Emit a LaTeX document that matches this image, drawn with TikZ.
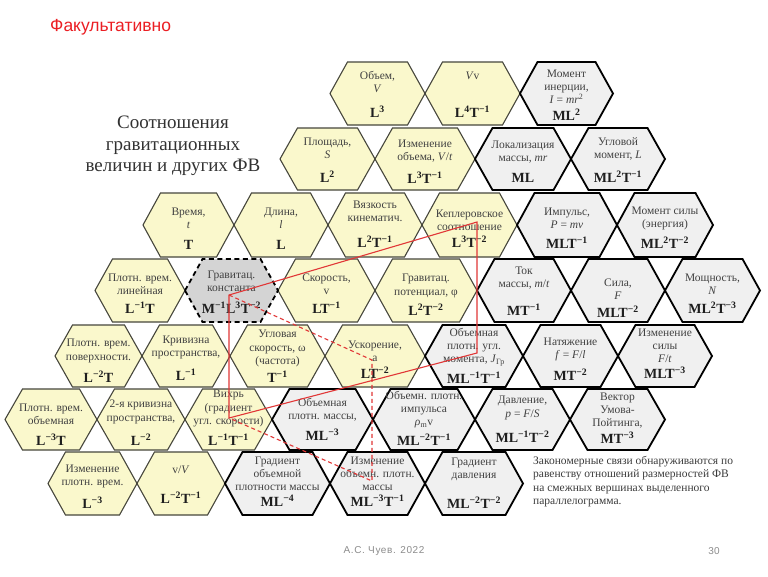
\documentclass[tikz,border=0pt]{standalone}
\usepackage{fontspec}
\setmainfont{Liberation Serif}
\newfontfamily\sansf{Liberation Sans}
\newfontfamily\footf[LetterSpace=6]{Liberation Sans}
\definecolor{hexyellow}{RGB}{250,248,204}
\definecolor{hexyedge}{RGB}{70,70,60}
\definecolor{hexgray}{RGB}{240,240,240}
\definecolor{hexdark}{RGB}{212,212,212}
\definecolor{namecol}{RGB}{65,65,65}
\definecolor{dimcol}{RGB}{30,30,30}
\definecolor{linered}{RGB}{225,55,55}
\definecolor{titlered}{RGB}{235,30,35}
\definecolor{footgray}{RGB}{140,140,140}
\newcommand{\sps}[1]{\textsuperscript{#1}}
\newcommand{\hexcell}[5]{\draw[#5] (#1,{(#3+#4)/2}) -- ({#1+17.5},#3) -- ({#2-17.5},#3) -- (#2,{(#3+#4)/2}) -- ({#2-17.5},#4) -- ({#1+17.5},#4) -- cycle;}
\begin{document}
\begin{tikzpicture}[x=1pt,y=-1pt,
  yhex/.style={fill=hexyellow,draw=hexyedge,line width=1.1pt,line join=miter},
  ghex/.style={fill=hexgray,draw=black,line width=1.8pt,line join=miter},
  khex/.style={fill=hexdark,draw=black,line width=1.8pt,dash pattern=on 5pt off 3.5pt},
  nm/.style={align=center,font=\fontsize{11.5}{13.2}\selectfont,text=namecol,inner sep=0pt},
  dm/.style={font=\fontsize{14}{16}\selectfont\bfseries,text=dimcol,inner sep=0pt},
  redline/.style={draw=linered,line width=1.1pt},
  reddash/.style={draw=linered,line width=1.1pt,dash pattern=on 4pt off 3pt}]
\useasboundingbox (0,0) rectangle (768,576);
\fill[white] (0,0) rectangle (768,576);

% ---------- yellow hexes ----------
\hexcell{330}{425}{62}{125}{yhex}
\hexcell{425}{520}{62}{125}{yhex}
\hexcell{280}{375}{128}{190}{yhex}
\hexcell{375}{475}{128}{190}{yhex}
\hexcell{143}{234}{193}{257}{yhex}
\hexcell{234}{328}{193}{257}{yhex}
\hexcell{328}{422}{193}{257}{yhex}
\hexcell{422}{517}{193}{257}{yhex}
\hexcell{95}{185}{259}{322}{yhex}
\hexcell{278}{375}{259}{322}{yhex}
\hexcell{375}{477}{259}{322}{yhex}
\hexcell{55}{142}{325}{387}{yhex}
\hexcell{142}{230}{325}{387}{yhex}
\hexcell{230}{325}{325}{387}{yhex}
\hexcell{325}{425}{325}{387}{yhex}
\hexcell{5}{97}{389}{450}{yhex}
\hexcell{97}{185}{389}{450}{yhex}
\hexcell{185}{272}{389}{450}{yhex}
\hexcell{48}{137}{452}{515}{yhex}
\hexcell{137}{225}{452}{515}{yhex}
% ---------- gray hexes ----------
\hexcell{520}{613}{62}{125}{ghex}
\hexcell{475}{571}{128}{190}{ghex}
\hexcell{571}{665}{128}{190}{ghex}
\hexcell{517}{617}{193}{257}{ghex}
\hexcell{617}{713}{193}{257}{ghex}
\hexcell{477}{571}{259}{322}{ghex}
\hexcell{571}{665}{259}{322}{ghex}
\hexcell{665}{760}{259}{322}{ghex}
\hexcell{425}{523}{325}{387}{ghex}
\hexcell{523}{618}{325}{387}{ghex}
\hexcell{618}{712}{325}{387}{ghex}
\hexcell{272}{373}{389}{450}{ghex}
\hexcell{373}{475}{389}{450}{ghex}
\hexcell{475}{570}{389}{450}{ghex}
\hexcell{570}{665}{389}{450}{ghex}
\hexcell{225}{330}{452}{515}{ghex}
\hexcell{330}{425}{452}{515}{ghex}
\hexcell{425}{523}{452}{515}{ghex}
% ---------- gravitational constant ----------
\hexcell{185}{278}{259}{322}{khex}

% ---------- texts: row 1 ----------
\node[nm] (n11) at (377.5,82) {Объем,\\\textit{V}};
\node[dm] (d11) at (377.5,112) {L\sps{3}};
\node[nm] (n12) at (472.5,76) {\textit{V}v};
\node[dm] (d12) at (472.5,112) {L\sps{4}T\sps{−1}};
\node[nm] (n13) at (566.5,86.5) {Момент\\инерции,\\\textit{I} = \textit{mr}\sps{2}};
\node[dm] (d13) at (566.5,115) {ML\sps{2}};
% row 2
\node[nm] (n21) at (327.5,148) {Площадь,\\\textit{S}};
\node[dm] (d21) at (327.5,177) {L\sps{2}};
\node[nm] (n22) at (425,151) {Изменение\\объема, \textit{V}/\textit{t}};
\node[dm] (d22) at (425,178) {L\sps{3}T\sps{−1}};
\node[nm] (n23) at (523,152) {Локализация\\массы, \textit{mr}};
\node[dm] (d23) at (523,178) {ML};
\node[nm] (n24) at (618,149) {Угловой\\момент, \textit{L}};
\node[dm] (d24) at (618,177) {ML\sps{2}T\sps{−1}};
% row 3
\node[nm] (n31) at (188.5,218.5) {Время,\\\textit{t}};
\node[dm] (d31) at (188.5,245) {T};
\node[nm] (n32) at (281,218.5) {Длина,\\\textit{l}};
\node[dm] (d32) at (281,245) {L};
\node[nm] (n33) at (375,211) {Вязкость\\кинематич.};
\node[dm] (d33) at (375,242) {L\sps{2}T\sps{−1}};
\node[nm] (n34) at (469.5,220) {Кеплеровское\\соотношение};
\node[dm] (d34) at (469.5,242) {L\sps{3}T\sps{−2}};
\node[nm] (n35) at (567,218.5) {Импульс,\\\textit{P} = \textit{mv}};
\node[dm] (d35) at (567,243) {MLT\sps{−1}};
\node[nm] (n36) at (665,218.5) {Момент силы\\(энергия)};
\node[dm] (d36) at (665,243) {ML\sps{2}T\sps{−2}};
% row 4
\node[nm] (n41) at (140,284.5) {Плотн. врем.\\линейная};
\node[dm] (d41) at (140,308) {L\sps{−1}T};
\node[nm] (n42) at (231.5,281.5) {Гравитац.\\константа};
\node[dm] (d42) at (231.5,308) {M\sps{−1}L\sps{3}T\sps{−2}};
\node[nm] (n43) at (326.5,284.5) {Скорость,\\v};
\node[dm] (d43) at (326.5,308) {LT\sps{−1}};
\node[nm] (n44) at (426,286) {Гравитац.\\потенциал, φ};
\node[dm] (d44) at (426,310) {L\sps{2}T\sps{−2}};
\node[nm] (n45) at (524,278.5) {Ток\\массы, \textit{m}/\textit{t}};
\node[dm] (d45) at (524,310) {MT\sps{−1}};
\node[nm] (n46) at (618,289.5) {Сила,\\\textit{F}};
\node[dm] (d46) at (618,312) {MLT\sps{−2}};
\node[nm] (n47) at (712.5,284.5) {Мощность,\\\textit{N}};
\node[dm] (d47) at (712.5,308) {ML\sps{2}T\sps{−3}};
% row 5
\node[nm] (n51) at (98.5,351) {Плотн. врем.\\поверхности.};
\node[dm] (d51) at (98.5,377) {L\sps{−2}T};
\node[nm] (n52) at (186,347.5) {Кривизна\\пространства,};
\node[dm] (d52) at (186,375) {L\sps{−1}};
\node[nm] (n53) at (277.5,348.5) {Угловая\\скорость, ω\\(частота)};
\node[dm] (d53) at (277.5,377) {T\sps{−1}};
\node[nm] (n54) at (375,351.5) {Ускорение,\\a};
\node[dm] (d54) at (375,373) {LT\sps{−2}};
\node[nm] (n55) at (474,347) {Объемная\\плотн. угл.\\момента, \textit{J}\textsubscript{Гр}};
\node[dm] (d55) at (474,378) {ML\sps{−1}T\sps{−1}};
\node[nm] (n56) at (570.5,349.5) {Натяжение\\\textit{f} = \textit{F}/\textit{l}};
\node[dm] (d56) at (570.5,375) {MT\sps{−2}};
\node[nm] (n57) at (665,346) {Изменение\\силы\\\textit{F}/\textit{t}};
\node[dm] (d57) at (665,373) {MLT\sps{−3}};
% row 6
\node[nm] (n61) at (51,414) {Плотн. врем.\\объемная};
\node[dm] (d61) at (51,440) {L\sps{−3}T};
\node[nm] (n62) at (141,412) {2-я кривизна\\пространства,};
\node[dm] (d62) at (141,440) {L\sps{−2}};
\node[nm] (n63) at (228.5,408.5) {Вихрь\\(градиент\\угл. скорости)};
\node[dm] (d63) at (228.5,440) {L\sps{−1}T\sps{−1}};
\node[nm] (n64) at (322.5,409.5) {Объемная\\плотн. массы,};
\node[dm] (d64) at (322.5,435) {ML\sps{−3}};
\node[nm] (n65) at (424,409.5) {Объемн. плотн.\\импульса\\\textit{ρ}\textsubscript{m}v};
\node[dm] (d65) at (424,440) {ML\sps{−2}T\sps{−1}};
\node[nm] (n66) at (522.5,408) {Давление,\\\textit{p} = \textit{F}/\textit{S}};
\node[dm] (d66) at (522.5,437) {ML\sps{−1}T\sps{−2}};
\node[nm] (n67) at (617.5,410.5) {Вектор\\Умова-\\Пойтинга,};
\node[dm] (d67) at (617.5,438) {MT\sps{−3}};
% row 7
\node[nm] (n71) at (92.5,476.5) {Изменение\\плотн. врем.};
\node[dm] (d71) at (92.5,503) {L\sps{−3}};
\node[nm] (n72) at (181,470) {v/\textit{V}};
\node[dm] (d72) at (181,498) {L\sps{−2}T\sps{−1}};
\node[nm] (n73) at (277.5,474) {Градиент\\объемной\\плотности массы};
\node[dm] (d73) at (277.5,501) {ML\sps{−4}};
\node[nm] (n74) at (377.5,474) {Изменение\\объемн. плотн.\\массы};
\node[dm] (d74) at (377.5,501) {ML\sps{−3}T\sps{−1}};
\node[nm] (n75) at (474,469) {Градиент\\давления};
\node[dm] (d75) at (474,503) {ML\sps{−2}T\sps{−2}};

% ---------- parallelograms ----------
\coordinate (G) at (229,295);
\coordinate (K) at (477,222);
\coordinate (J) at (477,353);
\coordinate (V) at (229,418);
\coordinate (A) at (372,360);
\coordinate (B) at (372,481);
\draw[reddash] (G) -- (A) -- (B) -- (V);
\draw[redline] (G) -- (K) -- (J) -- (V) -- cycle;

% ---------- titles and notes ----------
\node[anchor=west,inner sep=0pt,text=titlered,font=\sansf\fontsize{17.5}{20}\selectfont] (fak) at (50,27) {Факультативно};
\node[align=center,inner sep=0pt,text={rgb,255:red,50;green,50;blue,50},font=\fontsize{19}{21.5}\selectfont] (title) at (173,146) {Соотношения\\гравитационных\\величин и других ФВ};
\node[anchor=north west,align=left,inner sep=0pt,text={rgb,255:red,60;green,60;blue,60},font=\fontsize{11.5}{13.5}\selectfont] (note) at (533,456) {Закономерные связи обнаруживаются по\\равенству отношений размерностей ФВ\\на смежных вершинах выделенного\\параллелограмма.};
\node[inner sep=0pt,text=footgray,font=\footf\fontsize{10}{12}\selectfont] (foot) at (384,551) {А.С. Чуев. 2022};
\node[inner sep=0pt,text=footgray,font=\sansf\fontsize{10}{12}\selectfont] (page) at (714,551) {30};
\end{tikzpicture}
\end{document}
